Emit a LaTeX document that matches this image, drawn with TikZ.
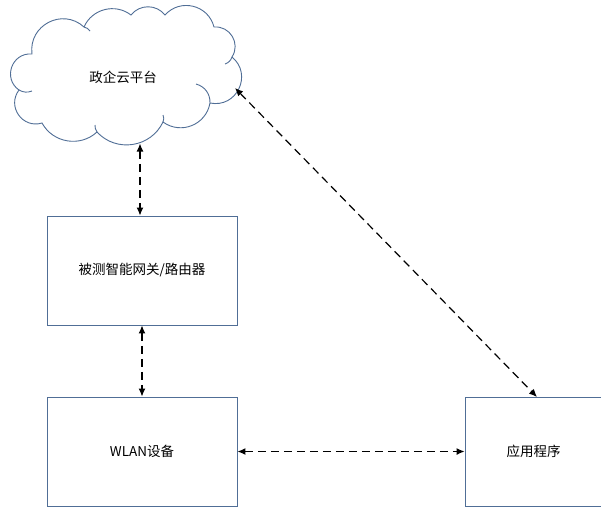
\documentclass[tikz,border=0pt]{standalone}
\usepackage{fontspec}
\setmainfont{Noto Sans CJK SC}
\usetikzlibrary{arrows.meta}
\definecolor{edge}{RGB}{80,110,150}
\tikzset{
  box/.style={draw=edge, line width=0.9pt, fill=white, minimum width=190pt, minimum height=109pt, inner sep=0pt},
  link/.style={draw=black, line width=1.2pt, dash pattern=on 8pt off 5pt,
    {Latex[length=8pt,width=7pt]}-{Latex[length=8pt,width=7pt]}},
  lbl/.style={font=\fontsize{13.5}{16}\selectfont},
  outline/.style={draw=edge, line width=0.9pt},
}
\begin{document}
\begin{tikzpicture}[x=1pt,y=-1pt]
\useasboundingbox (0,0) rectangle (601,507);
% cloud outline: one arc per puff, clockwise
\draw[outline, fill=white]
  (32,54)  to[bend left=70, looseness=1.27] (84,27)
           to[bend left=52, looseness=1.05] (131,15)
           to[bend left=52, looseness=1.05] (165,15)
           to[bend left=62, looseness=1.16] (214,27)
           to[bend left=64, looseness=1.18] (232,57)
           to[bend left=76, looseness=1.37] (210,103)
           to[bend left=58, looseness=1.12] (163,122)
           to[bend left=56, looseness=1.09] (97,132)
           to[bend left=52, looseness=1.05] (42,123)
           to[bend left=72, looseness=1.30] (19,90)
           to[bend left=75, looseness=1.35] cycle;
% short inner hooks where the puffs overlap
\draw[outline] (196,84) to[bend left=38] (210,103);
\draw[outline] (232,57) to[bend left=25] (225,64);
\draw[outline] (163,115) to[bend left=22] (163,122);
\draw[outline] (95,125) to[bend right=18] (97,132);
\draw[outline] (32,91) to[bend left=25] (19,90);
\draw[outline] (84,27) to[bend left=20] (90,31);
\node[lbl] (cloud) at (123,77) {政企云平台};
% devices
\node[box, lbl] (gw) at (142,270.5) {被测智能网关/路由器};
\node[box, lbl] (wlan) at (142,451.5) {WLAN设备};
\node[box, lbl, minimum width=137pt] (app) at (533.5,451.5) {应用程序};
% connector ends on the cloud outline
\coordinate (cbot) at (140,143.5);
\coordinate (cright) at (235,88);
% links
\draw[link] (cbot) -- (cbot |- gw.north);
\draw[link] (gw.south) -- (wlan.north);
\draw[link] (wlan.east) -- (app.west);
\draw[link] (cright) -- (537,397);
\end{tikzpicture}
\end{document}
